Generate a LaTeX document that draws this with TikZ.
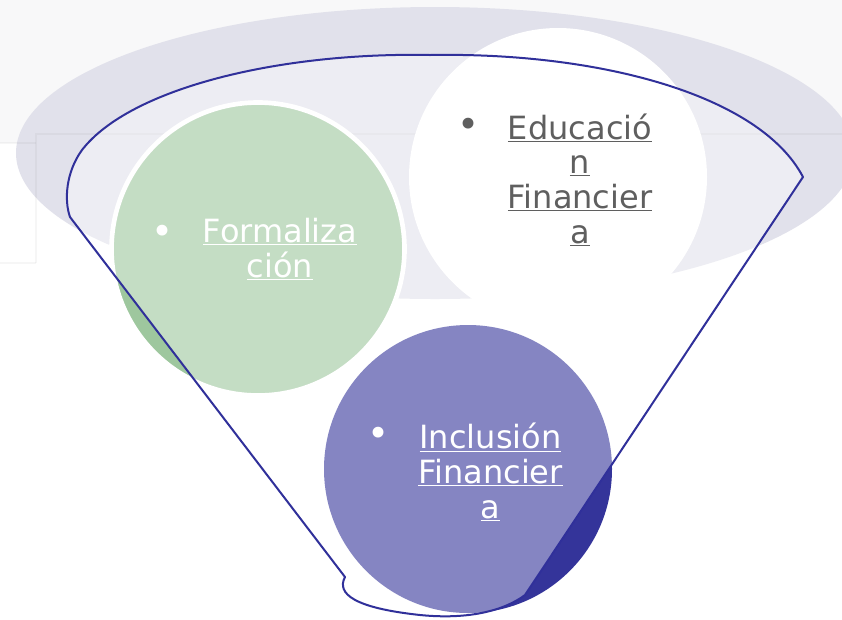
\documentclass[tikz,border=0pt]{standalone}
\usepackage{fontspec}
\setmainfont{DejaVu Sans}
\definecolor{bgtop}{HTML}{F8F8F9}
\definecolor{ellfill}{HTML}{E1E1EB}
\definecolor{greenfill}{HTML}{9EC79E}
\definecolor{purplefill}{HTML}{34349A}
\definecolor{funnelline}{HTML}{30309A}
\definecolor{graytext}{HTML}{5F5F5F}
\tikzset{
  disc/.style={circle, inner sep=0pt, outer sep=0pt, draw=none},
  lbl/.style={font=\fontsize{24pt}{26pt}\selectfont, align=center, inner sep=0pt, anchor=base},
  bul/.style={font=\fontsize{28pt}{28pt}\selectfont, inner sep=0pt, anchor=center},
  faint/.style={draw=black, draw opacity=0.035, line width=1.2pt}
}
\begin{document}
\begin{tikzpicture}[x=0.75pt,y=-0.75pt]
\useasboundingbox (0,0) rectangle (842,619);
% background
\fill[white] (0,0) rectangle (842,619);
\fill[bgtop] (0,0) rectangle (842,134);
\fill[bgtop] (0,134) rectangle (36,143);
% big ellipse
\fill[ellfill] (435,153) ellipse [x radius=419, y radius=146];
% faint frame lines
\draw[faint] (0,143) -- (36,143);
\draw[faint] (36,263) -- (36,134) -- (842,134);
\draw[faint] (0,263) -- (36,263);
% circles
\node[disc, fill=white, minimum size=223.5pt] (edu) at (558,177) {};
\node[disc, fill=greenfill, draw=white, line width=3.5pt, minimum size=219.75pt] (form) at (258,249) {};
\node[disc, fill=purplefill, minimum size=216pt] (incl) at (468,469) {};
% funnel
\coordinate (rc) at (803,177);
\coordinate (lc) at (70,217);
\coordinate (bl) at (345,577);
\coordinate (br) at (525,595);
\path[fill=white, fill opacity=0.4, draw=funnelline, line width=1.5pt, line join=round]
  (rc) .. controls (760,95) and (600,52) .. (430,55)
       .. controls (280,52) and (130,88) .. (82,150)
       .. controls (66,172) and (64,200) .. (lc)
  -- (bl) .. controls (336,594) and (355,608) .. (420,615)
       .. controls (470,620) and (505,610) .. (br)
  -- cycle;
% texts
\node[bul, text=white] (formb) at (163,235) {•};
\node[lbl, text=white] (formt) at (280,277) {\underline{Formaliza}\\\underline{ción}};
\node[bul, text=graytext] (edub) at (469,128) {•};
\node[lbl, text=graytext] (edut) at (580,243) {\underline{Educació}\\\underline{n}\\\underline{Financier}\\\underline{a}};
\node[bul, text=white] (inclb) at (379,437) {•};
\node[lbl, text=white] (inclt) at (490.5,518) {\underline{Inclusión}\\\underline{Financier}\\\underline{a}};
\end{tikzpicture}
\end{document}
